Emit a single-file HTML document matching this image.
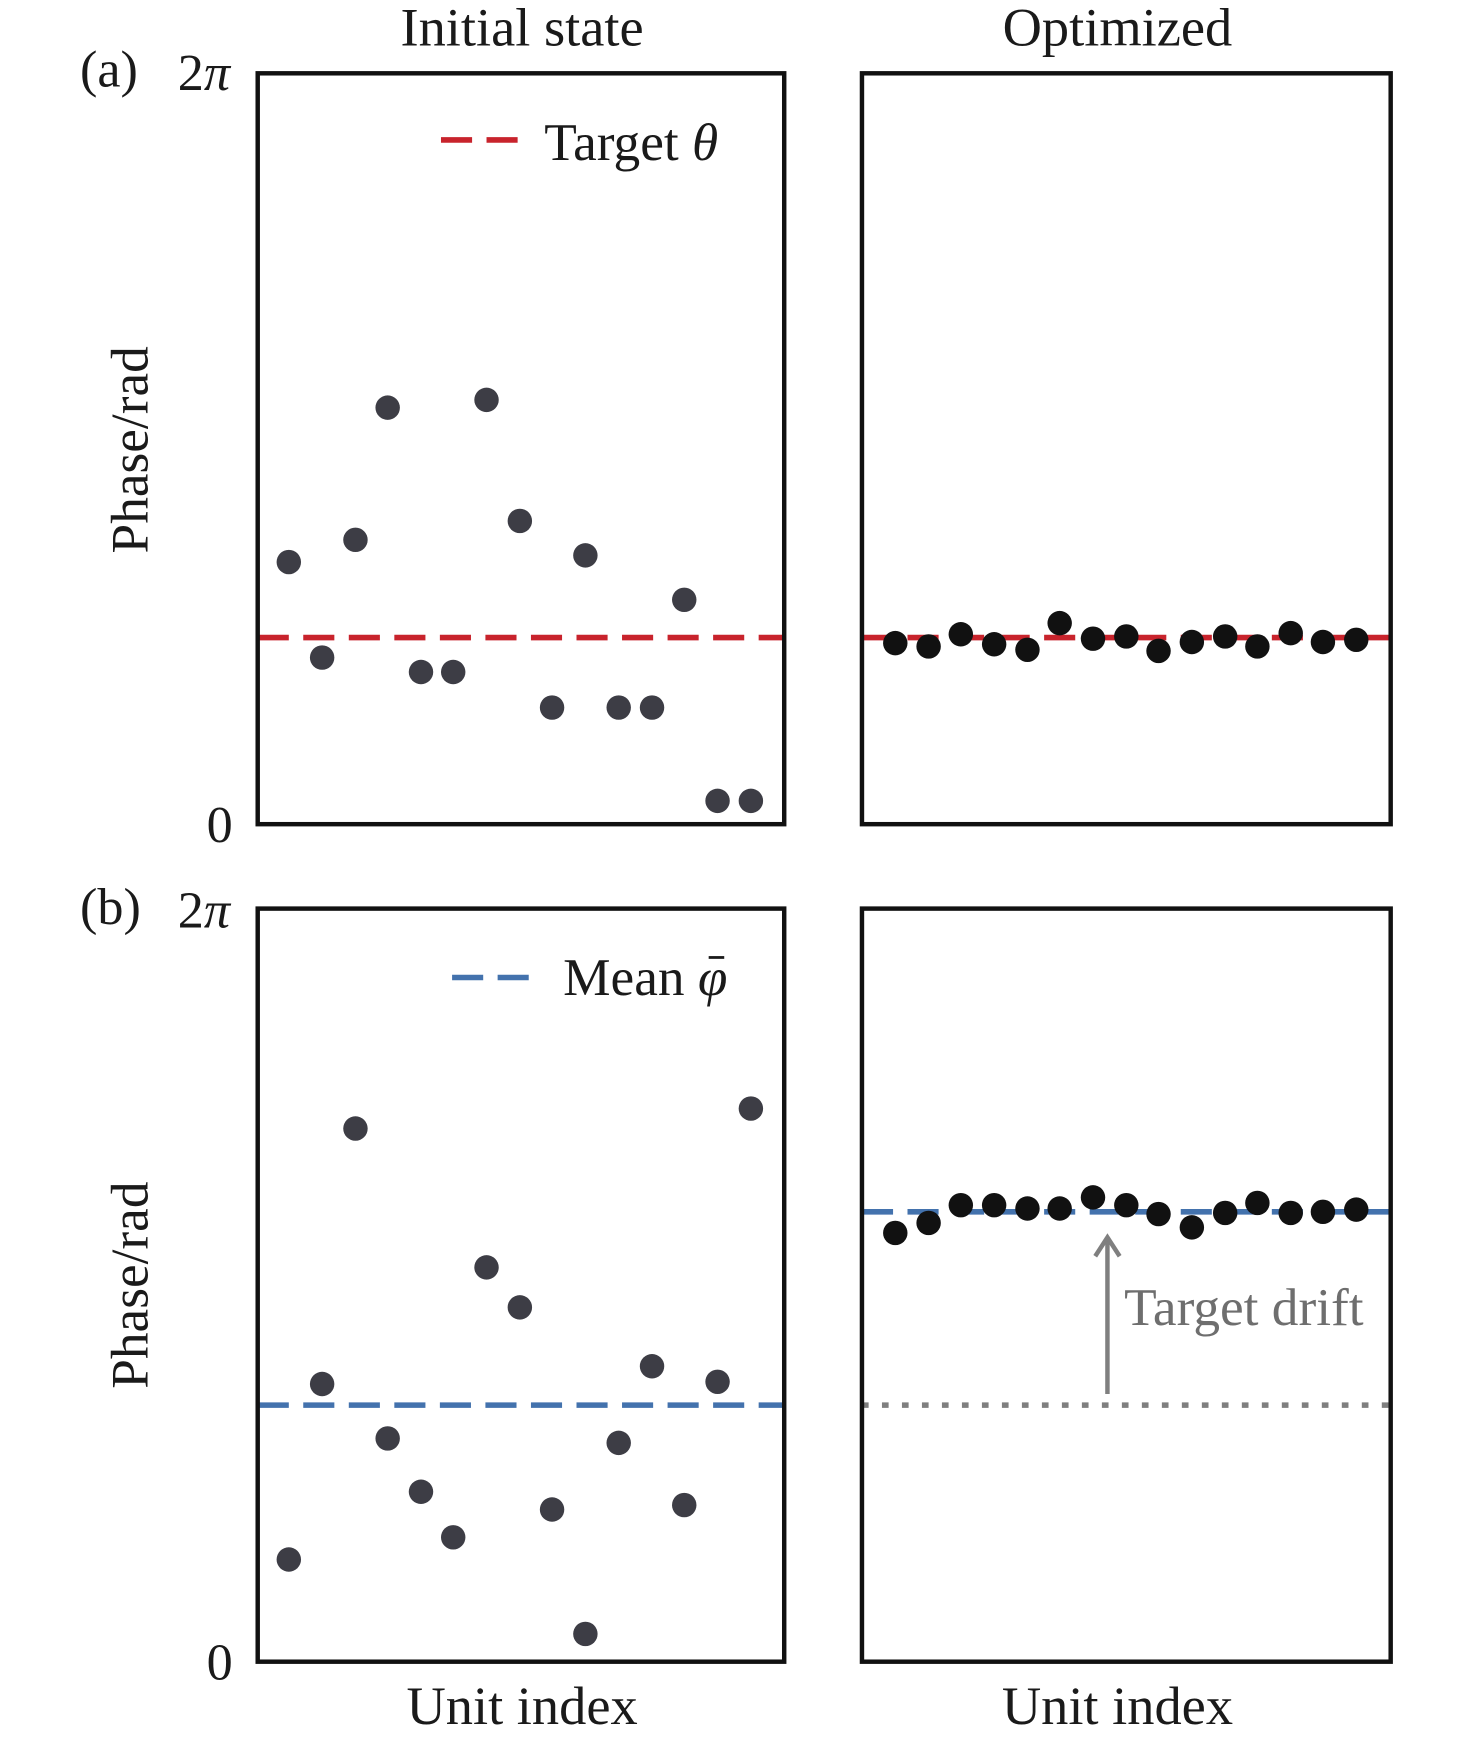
<!DOCTYPE html>
<html><head><meta charset="utf-8"><style>html,body{margin:0;padding:0;background:#fff}svg{display:block}</style></head>
<body>
<svg width="1476" height="1741" viewBox="0 0 1328.8 1567.4" xmlns="http://www.w3.org/2000/svg" font-family="'Liberation Serif', serif" fill="#1a1a1a">
<rect width="1328.8" height="1567.4" fill="#fff"/>
<g font-size="49" text-anchor="middle">
<text x="470" y="41">Initial state</text>
<text x="1006" y="41">Optimized</text>
<text x="470" y="1552">Unit index</text>
<text x="1006" y="1552">Unit index</text>
</g>
<g font-size="47">
<text x="72" y="78">(a)</text>
<text x="72" y="832">(b)</text>
<text x="160" y="81"><tspan>2</tspan><tspan font-style="italic">π</tspan></text>
<text x="160" y="835"><tspan>2</tspan><tspan font-style="italic">π</tspan></text>
<text x="186" y="758">0</text>
<text x="186" y="1512">0</text>
</g>
<g font-size="48" text-anchor="middle">
<text transform="translate(133,405) rotate(-90)">Phase/rad</text>
<text transform="translate(133,1157) rotate(-90)">Phase/rad</text>
</g>
<line x1="232" y1="574" x2="706" y2="574" stroke="#c8232c" stroke-width="5" stroke-dasharray="28,13"/>
<line x1="776" y1="574" x2="1252" y2="574" stroke="#c8232c" stroke-width="5" stroke-dasharray="28,13"/>
<line x1="397" y1="126" x2="467" y2="126" stroke="#c8232c" stroke-width="5" stroke-dasharray="28,13"/>
<text x="490" y="144" font-size="48">Target <tspan font-style="italic">θ</tspan></text>
<g fill="#3d3d45">
<circle cx="260" cy="506" r="11"/><circle cx="290" cy="592" r="11"/><circle cx="320" cy="486" r="11"/><circle cx="349" cy="367" r="11"/><circle cx="379" cy="605" r="11"/><circle cx="408" cy="605" r="11"/><circle cx="438" cy="360" r="11"/><circle cx="468" cy="469" r="11"/><circle cx="497" cy="637" r="11"/><circle cx="527" cy="500" r="11"/><circle cx="557" cy="637" r="11"/><circle cx="587" cy="637" r="11"/><circle cx="616" cy="540" r="11"/><circle cx="646" cy="721" r="11"/><circle cx="676" cy="721" r="11"/>
</g>
<g fill="#111">
<circle cx="806" cy="579" r="11"/><circle cx="836" cy="582" r="11"/><circle cx="865" cy="571" r="11"/><circle cx="895" cy="580" r="11"/><circle cx="925" cy="585" r="11"/><circle cx="954" cy="561" r="11"/><circle cx="984" cy="575" r="11"/><circle cx="1014" cy="573" r="11"/><circle cx="1043" cy="586" r="11"/><circle cx="1073" cy="578" r="11"/><circle cx="1103" cy="573" r="11"/><circle cx="1132" cy="582" r="11"/><circle cx="1162" cy="570" r="11"/><circle cx="1191" cy="578" r="11"/><circle cx="1221" cy="576" r="11"/>
</g>
<line x1="232" y1="1265" x2="706" y2="1265" stroke="#4372ad" stroke-width="5" stroke-dasharray="28,13"/>
<line x1="776" y1="1091" x2="1252" y2="1091" stroke="#4372ad" stroke-width="5" stroke-dasharray="28,13"/>
<line x1="776" y1="1265" x2="1252" y2="1265" stroke="#7f7f7f" stroke-width="5" stroke-dasharray="6,12"/>
<line x1="407" y1="880" x2="480" y2="880" stroke="#4372ad" stroke-width="5" stroke-dasharray="28,13"/>
<text x="507" y="896" font-size="48">Mean <tspan font-style="italic">φ</tspan></text>
<line x1="638" y1="862" x2="652" y2="862" stroke="#1a1a1a" stroke-width="2.5"/>
<line x1="997" y1="1255" x2="997" y2="1116" stroke="#7f7f7f" stroke-width="4"/>
<polyline points="986,1131 997,1114 1008,1131" fill="none" stroke="#7f7f7f" stroke-width="4"/>
<text x="1012" y="1193" font-size="48" fill="#6e6e6e">Target drift</text>
<g fill="#3d3d45">
<circle cx="260" cy="1404" r="11"/><circle cx="290" cy="1246" r="11"/><circle cx="320" cy="1016" r="11"/><circle cx="349" cy="1295" r="11"/><circle cx="379" cy="1343" r="11"/><circle cx="408" cy="1384" r="11"/><circle cx="438" cy="1141" r="11"/><circle cx="468" cy="1177" r="11"/><circle cx="497" cy="1359" r="11"/><circle cx="527" cy="1471" r="11"/><circle cx="557" cy="1299" r="11"/><circle cx="587" cy="1230" r="11"/><circle cx="616" cy="1355" r="11"/><circle cx="646" cy="1244" r="11"/><circle cx="676" cy="998" r="11"/>
</g>
<g fill="#111">
<circle cx="806" cy="1110" r="11"/><circle cx="836" cy="1101" r="11"/><circle cx="865" cy="1085" r="11"/><circle cx="895" cy="1085" r="11"/><circle cx="925" cy="1088" r="11"/><circle cx="954" cy="1088" r="11"/><circle cx="984" cy="1078" r="11"/><circle cx="1014" cy="1085" r="11"/><circle cx="1043" cy="1093" r="11"/><circle cx="1073" cy="1105" r="11"/><circle cx="1103" cy="1092" r="11"/><circle cx="1132" cy="1083" r="11"/><circle cx="1162" cy="1092" r="11"/><circle cx="1191" cy="1091" r="11"/><circle cx="1221" cy="1089" r="11"/>
</g>
<g fill="none" stroke="#111" stroke-width="4">
<rect x="232" y="66" width="474" height="676"/>
<rect x="776" y="66" width="476" height="676"/>
<rect x="232" y="818" width="474" height="678"/>
<rect x="776" y="818" width="476" height="678"/>
</g>
</svg>
</body></html>
